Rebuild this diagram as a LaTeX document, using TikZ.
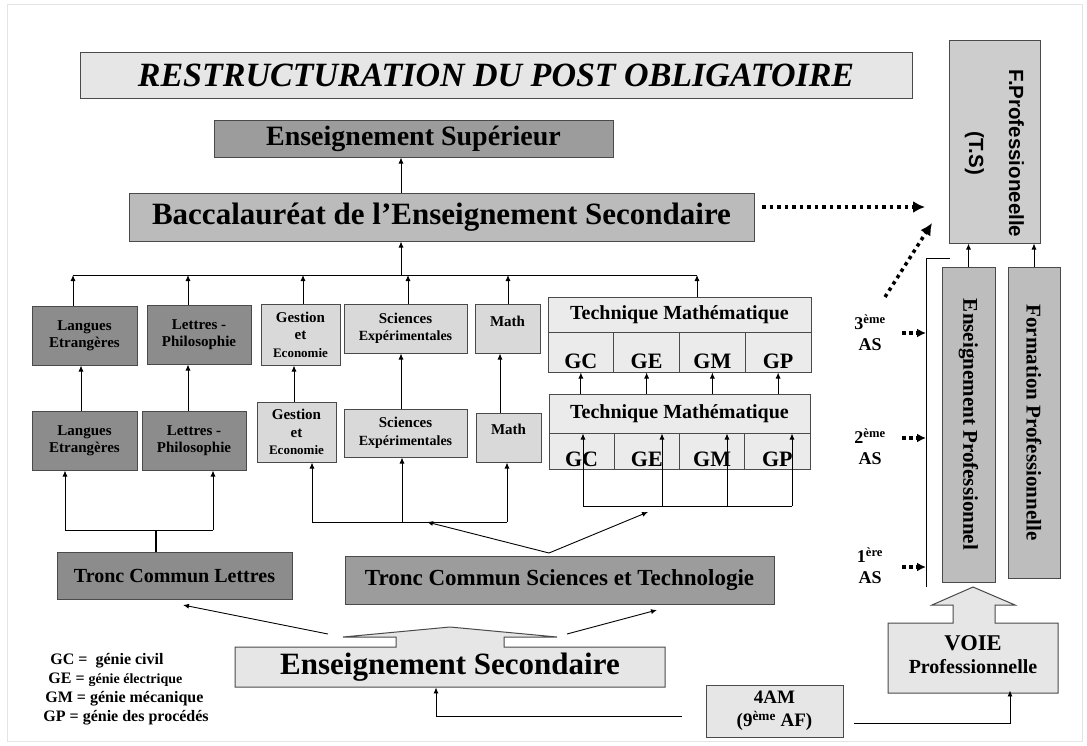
\documentclass[tikz,border=0pt]{standalone}
\usepackage{fontspec}
\setmainfont{Liberation Serif}
\newfontfamily\arialfont{Liberation Sans}
\usetikzlibrary{arrows.meta}

\definecolor{edge}{HTML}{4A4A4A}
\definecolor{framegray}{HTML}{E4E4E4}
\definecolor{lightfill}{HTML}{E6E6E6}
\definecolor{techfill}{HTML}{EBEBEB}
\definecolor{palefill}{HTML}{D9D9D9}
\definecolor{baccfill}{HTML}{BBBBBB}
\definecolor{midfill}{HTML}{9C9C9C}
\definecolor{darkfill}{HTML}{8C8C8C}
\definecolor{fproffill}{HTML}{CDCDCD}
\definecolor{profill}{HTML}{BDBDBD}

\newcommand{\fsz}[2]{\fontsize{#1}{#2}\selectfont}

\begin{document}
\begin{tikzpicture}[x=1pt,y=-1pt,line width=0.9pt,>={Latex[length=6pt,width=5pt]},
    box/.style={draw=edge, line width=1pt, inner sep=0pt, align=center, font=\bfseries},
    dark/.style={box, fill=darkfill},
    pale/.style={box, fill=palefill},
    tech/.style={box, fill=techfill},
    pro/.style={box, fill=profill, rotate=-90, font=\bfseries\fsz{21}{25}},
    subj/.style={font=\bfseries\fsz{15}{17.5}},
    cell/.style={tech, font=\bfseries\fsz{22}{26}},
    dotarrow/.style={line width=3.5pt, dash pattern=on 3.5pt off 4pt, -{Latex[length=12pt,width=12pt]}},
    smalldot/.style={line width=3.5pt, dash pattern=on 3.5pt off 3.5pt, -{Latex[length=9pt,width=9pt]}}]
        \useasboundingbox (0,0) rectangle (1087,745);
        \draw[framegray, line width=0.8pt] (7,4) rectangle (1082,741);

        \node[box, fill=lightfill, minimum width=832, minimum height=46, font=\bfseries\itshape\fsz{34}{40}] (title) at (496,75) {RESTRUCTURATION DU POST OBLIGATOIRE};
        \node[box, fill=midfill, minimum width=399, minimum height=37, font=\bfseries\fsz{28}{32}] (sup) at (413.5,138.5) {Enseignement Supérieur};
        \node[box, fill=baccfill, minimum width=625, minimum height=48, font=\bfseries\fsz{31}{36}] (bacc) at (441.5,217) {Baccalauréat de l’Enseignement Secondaire};
        \node[box, fill=fproffill, rotate=-90, minimum width=203, minimum height=91, font=\arialfont\bfseries\fsz{20.5}{24}] (fprof) at (994.5,141.5) {\hspace*{24pt}F.Professioneelle\\[16pt]\hspace*{24pt}(T.S)};

        \coordinate (stem) at (401,275);
        \coordinate (bus) at (73,275);
        \coordinate (busR) at (697,275);
        \draw (bus) -- (busR);
        \draw[->] (stem) -- (stem |- bacc.south);
        \draw[->] (stem |- bacc.north) -- (stem |- sup.south);

        \coordinate (dotA) at (762,207);
        \coordinate (dotB) at (925,207);
        \coordinate (dotC) at (885,297);
        \coordinate (dotD) at (932,223);
        \draw[dotarrow] (dotA) -- (dotB);
        \draw[dotarrow] (dotC) -- (dotD);

        \node[dark, subj, minimum width=105, minimum height=59] (lang1) at (84.5,335.5) {Langues\\Etrangères};
        \node[dark, subj, minimum width=104, minimum height=59] (let1) at (199,334.5) {Lettres -\\Philosophie};
        \node[pale, subj, minimum width=79, minimum height=61] (ges1) at (300.5,334.5) {Gestion\\et\\{\fsz{13}{15}Economie}};
        \node[pale, subj, minimum width=123, minimum height=49] (sci1) at (405.5,328.5) {Sciences\\{\fsz{14}{16}Expérimentales}};
        \node[pale, subj, minimum width=65, text height=22pt, text depth=27pt] (math1) at (507.5,328.5) {Math};
        \node[tech, minimum width=263, minimum height=35, font=\bfseries\fsz{20}{23}] (tech1) at (679.5,314.5) {Technique Mathématique};
        \foreach \g [count=\i] in {GC,GE,GM,GP}
            \node[cell, minimum width=65.75, text height=36pt, text depth=4pt] (t1\g) at ({548+65.75*(\i-0.5)},352) {\g};

        \node[dark, subj, minimum width=105, minimum height=59] (lang2) at (84.5,440.5) {Langues\\Etrangères};
        \node[dark, subj, minimum width=104, minimum height=59] (let2) at (194,440.5) {Lettres -\\Philosophie};
        \node[pale, subj, minimum width=79, minimum height=60] (ges2) at (296.5,432) {Gestion\\et\\{\fsz{13}{15}Economie}};
        \node[pale, subj, minimum width=123, minimum height=48] (sci2) at (405.5,433) {Sciences\\{\fsz{14}{16}Expérimentales}};
        \node[pale, subj, minimum width=65, text height=21pt, text depth=28pt] (math2) at (508.5,437.5) {Math};
        \node[tech, minimum width=261, minimum height=39, font=\bfseries\fsz{20}{23}] (tech2) at (679.5,413.5) {Technique Mathématique};
        \foreach \g [count=\i] in {GC,GE,GM,GP}
            \node[cell, minimum width=65.25, text height=33pt, text depth=3pt] (t2\g) at ({549+65.25*(\i-0.5)},451) {\g};

        \foreach \n/\x in {lang1/73, let1/188, ges1/303, sci1/408, math1/508, tech1/697}
            \draw[->] (\x,0 |- \n.north) -- (\x,0 |- bus);
        \foreach \a/\b/\x in {lang2/lang1/81, let2/let1/188, ges2/ges1/294, sci2/sci1/401, math2/math1/500}
            \draw[->] (\x,0 |- \a.north) -- (\x,0 |- \b.south);
        \foreach \g in {GC,GE,GM,GP}
            \draw[->] (t1\g.south |- tech2.north) -- (t1\g.south);

        \node[dark, minimum width=235, minimum height=47, font=\bfseries\fsz{20}{24}] (tcl) at (174.5,575.5) {Tronc Commun Lettres};
        \node[box, fill=midfill, minimum width=429, minimum height=48, font=\bfseries\fsz{23}{27}] (tcst) at (559.5,580) {Tronc Commun Sciences et Technologie};

        \coordinate (tlL) at (65,530);
        \coordinate (tlR) at (213,530);
        \coordinate (tlS) at (156,530);
        \draw (tlL) -- (tlR);
        \draw[->] (tlL) -- (tlL |- lang2.south);
        \draw[->] (tlR) -- (tlR |- let2.south);
        \draw[line width=2pt] (tlS) -- (tlS |- tcl.north);

        \coordinate (mbL) at (312,522);
        \coordinate (mbM) at (402,522);
        \coordinate (mbR) at (507,522);
        \coordinate (mbT) at (427,522);
        \draw (mbL) -- (mbR);
        \draw[->] (mbL) -- (mbL |- ges2.south);
        \draw[->] (mbM) -- (mbM |- sci2.south);
        \draw[->] (mbR) -- (mbR |- math2.south);

        \coordinate (rbL) at (583,506);
        \coordinate (rbR) at (792,506);
        \coordinate (rbT) at (648,512);
        \draw (rbL) -- (rbR);
        \foreach \x in {583,662,727,792}
            \draw[->] (\x,0 |- rbL) -- (\x,0 |- tech2.south);

        \coordinate (fork) at (549,553);
        \draw[->] (fork) -- (mbT);
        \draw[->] (fork) -- (rbT);

        \draw[draw=edge, line width=1pt, fill=lightfill] (235,647) -- (396,647) -- (396,637) -- (343,637) -- (450,627) -- (557,637) -- (504,637) -- (504,647) -- (665,647) -- (665,687) -- (235,687) -- cycle;
        \node[minimum width=430, minimum height=40, inner sep=0pt, font=\bfseries\fsz{31}{36}] (ens) at (450,667) {Enseignement Secondaire};

        \coordinate (esL) at (328,634);
        \coordinate (tclIn) at (183,605);
        \coordinate (esR) at (567,634);
        \coordinate (tcstIn) at (657,610);
        \draw[->] (esL) -- (tclIn);
        \draw[->] (esR) -- (tcstIn);

        \node[anchor=north west, align=left, inner sep=0pt, font=\bfseries\fsz{16}{19}] (legend) at (43,653) {\hspace*{7pt}GC = \ génie civil\\\hspace*{5pt}GE = {\fsz{14}{19}génie électrique}\\\hspace*{2pt}GM = génie mécanique\\GP = génie des procédés};

        \node[box, fill=lightfill, minimum width=137, minimum height=52, font=\bfseries\fsz{19}{23}] (am) at (774.5,711) {4AM\\(9\textsuperscript{ème} AF)};
        \coordinate (amL) at (682,716);
        \coordinate (esIn) at (436,716);
        \draw[->] (amL) -- (esIn) -- (esIn |- ens.south);

        \draw[draw=edge, line width=1pt, fill=lightfill] (888,623) -- (953,623) -- (953,605) -- (932,605) -- (973,587) -- (1015,605) -- (995,605) -- (995,623) -- (1058,623) -- (1058,693) -- (888,693) -- cycle;
        \node[minimum width=170, minimum height=70, inner sep=0pt, align=center, font=\bfseries\fsz{20}{23}] (voie) at (973,655) {{\fsz{22.5}{26}VOIE}\\Professionnelle};
        \coordinate (amR) at (854,723);
        \coordinate (vpIn) at (1010,723);
        \draw[->] (amR) -- (vpIn) -- (vpIn |- voie.south);

        \node[pro, minimum width=315, minimum height=53] (ep) at (968.5,424.5) {Enseignement Professionnel};
        \node[pro, minimum width=311, minimum height=52] (fp) at (1034,422.5) {Formation Professionnelle};
        \draw[->] (ep.west) -- (ep.west |- fprof.east);
        \draw[->] (fp.west) -- (fp.west |- fprof.east);

        \coordinate (axT) at (950,258);
        \coordinate (axC) at (926,258);
        \coordinate (axB) at (926,587);
        \draw (axT) -- (axC) -- (axB);

        \foreach \k/\ord/\y/\ya in {3/ème/333/333, 2/ème/447/438, 1/ère/566/567} {
            \node[align=center, inner sep=0pt, font=\bfseries\fsz{18}{21}] (as\k) at (870,\y) {\k\textsuperscript{\ord}\\AS};
            \coordinate (asdot\k) at (902,\ya);
            \draw[smalldot] (asdot\k) -- (asdot\k -| axC);
        }
\end{tikzpicture}
\end{document}
